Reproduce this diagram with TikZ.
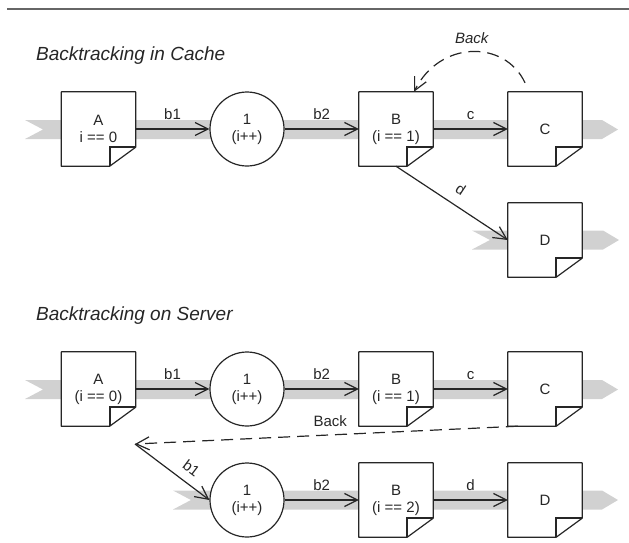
\documentclass[tikz,border=0pt]{standalone}
\usepackage{fontspec}
\setmainfont{Liberation Sans}
\usetikzlibrary{arrows.meta}
\newcommand\dgfont{\fontsize{15}{17}\selectfont}
\newcommand\ttlfont{\fontsize{19}{22}\selectfont\itshape}
% document page with a folded lower right corner
\newcommand\docpage[3]{%
  \node[docbox] (#1) at (#2) {#3};
  \draw[ink, line join=round] (#1.north west) -- (#1.north east)
    -- ([yshift=19pt]#1.south east) -- ([xshift=-26pt]#1.south east)
    -- (#1.south west) -- cycle;
  \draw[ink, line width=1.7pt] ([xshift=-26pt]#1.south east)
    -- ([xshift=-26pt,yshift=19pt]#1.south east) -- ([yshift=19pt]#1.south east);
}
% grey flow band with notched tail and pointed head
\newcommand\flowband[3]{%
  \fill[bandfill] (#1,#3-9.5) -- ({#1+18},#3) -- (#1,#3+9.5)
    -- ({#2-16},#3+9.5) -- (#2,#3) -- ({#2-16},#3-9.5) -- cycle;
}
\begin{document}
\begin{tikzpicture}[x=1pt,y=-1pt,
  ink/.style={draw=black!85, line width=1.2pt},
  bandfill/.style={fill=black!18},
  docbox/.style={rectangle, minimum width=74pt, minimum height=74pt,
    inner sep=0pt, fill=white, align=center, font=\dgfont, text=black!85},
  state/.style={circle, minimum size=74pt, inner sep=0pt, fill=white,
    ink, align=center, font=\dgfont, text=black!85},
  arr/.style={ink, -{Straight Barb[length=13pt,width=13pt]}},
  backarr/.style={arr, dash pattern=on 12pt off 7pt},
  lab/.style={font=\dgfont, text=black!85, inner sep=0pt},
  ttl/.style={font=\ttlfont, text=black!85, inner sep=0pt, anchor=base west}]
\useasboundingbox (0,0) rectangle (629,542);

% top rule
\draw[draw=black!60, line width=2pt] (7,8.5) -- (629,8.5);

% titles
\node[ttl] (title1) at (36,60) {Backtracking in Cache};
\node[ttl] (title2) at (36,320) {Backtracking on Server};

% flow bands
\flowband{25}{618}{129.5}
\flowband{472}{619}{240}
\flowband{25}{618}{389.5}
\flowband{173}{618}{500}

% --- backtracking in cache ---
\docpage{a1}{98.5,129}{A\\i == 0}
\node[state] (s1) at (247,129) {1\\(i++)};
\docpage{b1}{396,129}{B\\(i == 1)}
\docpage{c1}{545,129}{C}
\docpage{d1}{545,240}{D}

\draw[arr] (a1.east) -- node[lab, above=9pt] {b1} (s1.west);
\draw[arr] (s1.east) -- node[lab, above=9pt] {b2} (b1.west);
\draw[arr] (b1.east) -- node[lab, above=9pt] {c} (c1.west);
\draw[arr] (b1.south) -- node[lab, sloped, above=10pt] {d} (d1.west);
\draw[backarr] ([xshift=-20pt,yshift=9pt]c1.north)
  .. controls ([xshift=-40pt,yshift=52pt]c1.north) and ([xshift=-105pt,yshift=52pt]c1.north)
  .. node[lab, above=7pt, font=\dgfont\itshape] {Back} ([xshift=18pt]b1.north);

% --- backtracking on server ---
\docpage{a2}{98.5,389}{A\\(i == 0)}
\node[state] (s2) at (247,389) {1\\(i++)};
\docpage{b2}{396,389}{B\\(i == 1)}
\docpage{c2}{545,389}{C}
\node[state] (s3) at (247,500) {1\\(i++)};
\docpage{b3}{396,500}{B\\(i == 2)}
\docpage{d3}{545,500}{D}
\coordinate (turn) at (135,444);

\draw[arr] (a2.east) -- node[lab, above=9pt] {b1} (s2.west);
\draw[arr] (s2.east) -- node[lab, above=9pt] {b2} (b2.west);
\draw[arr] (b2.east) -- node[lab, above=9pt] {c} (c2.west);
\draw[backarr] ([xshift=10pt]c2.south west) -- node[lab, pos=0.49, above=8pt] {Back} (turn);
\draw[arr] (turn) -- node[lab, sloped, pos=0.64, above=8.5pt] {b1} (s3.west);
\draw[arr] (s3.east) -- node[lab, above=9pt] {b2} (b3.west);
\draw[arr] (b3.east) -- node[lab, above=9pt] {d} (d3.west);
\end{tikzpicture}
\end{document}
